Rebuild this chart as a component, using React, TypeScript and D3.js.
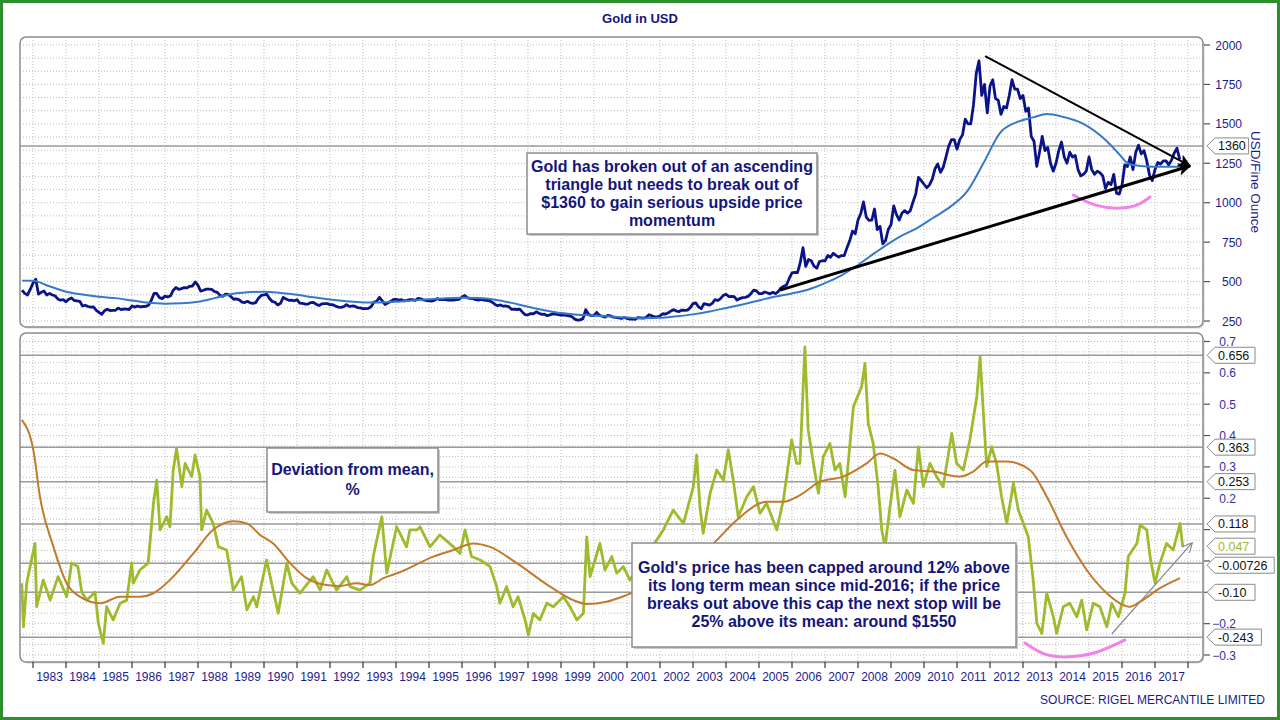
import React from "react";
import * as d3 from "d3";

// ---------------- DATA ----------------
const goldStart = 1982 + 8 / 12; // first monthly observation (Sep 1982)
const goldMonthly: number[] = [
  445, 425, 415, 450, // 1982 Sep-Dec
  490, 515, 420, 432, 440, 415, 425, 415, 410, 390, 382, 385, // 1983
  372, 388, 396, 380, 378, 375, 345, 350, 342, 338, 340, 318, // 1984
  305, 292, 315, 325, 316, 318, 318, 332, 322, 326, 325, 323, // 1985
  345, 338, 345, 340, 342, 343, 350, 380, 425, 425, 398, 392, // 1986
  408, 402, 410, 445, 462, 450, 455, 462, 460, 470, 472, 498, // 1987
  476, 440, 445, 452, 452, 450, 437, 432, 412, 406, 420, 418, // 1988
  404, 388, 390, 384, 370, 367, 375, 365, 362, 367, 395, 412, // 1989
  415, 420, 393, 374, 369, 352, 362, 400, 390, 381, 382, 378, // 1990
  385, 363, 362, 357, 357, 367, 368, 356, 348, 358, 360, 360, // 1991
  354, 353, 345, 338, 337, 341, 354, 343, 345, 344, 335, 333, // 1992
  329, 329, 330, 342, 370, 375, 400, 378, 355, 364, 373, 385, // 1993
  388, 382, 385, 377, 381, 386, 385, 380, 393, 390, 384, 380, // 1994
  378, 376, 382, 392, 385, 387, 386, 383, 383, 383, 386, 388, // 1995
  402, 412, 396, 393, 392, 385, 383, 387, 383, 381, 378, 369, // 1996
  355, 347, 352, 344, 345, 341, 324, 325, 323, 325, 306, 289, // 1997
  289, 297, 296, 308, 299, 292, 293, 284, 289, 296, 294, 291, // 1998
  287, 287, 286, 282, 277, 262, 256, 257, 265, 322, 293, 284, // 1999
  284, 305, 286, 280, 275, 285, 282, 274, 273, 270, 266, 272, // 2000
  266, 262, 263, 261, 272, 270, 268, 273, 290, 283, 276, 276, // 2001
  282, 296, 294, 302, 314, 322, 313, 310, 319, 317, 319, 335, // 2002
  360, 365, 340, 328, 360, 356, 351, 362, 385, 380, 392, 412, // 2003
  420, 405, 406, 404, 383, 392, 398, 400, 406, 422, 445, 442, // 2004
  424, 423, 434, 429, 422, 432, 424, 437, 460, 470, 478, 520, // 2005
  555, 558, 557, 620, 715, 596, 640, 632, 598, 585, 627, 632, // 2006
  631, 665, 654, 679, 666, 655, 665, 665, 715, 760, 820, 803, // 2007
  890, 930, 1005, 909, 888, 889, 960, 830, 850, 740, 760, 830, // 2008
  860, 980, 924, 890, 935, 950, 934, 949, 1005, 1055, 1160, 1140, // 2009
  1117, 1095, 1113, 1150, 1215, 1245, 1193, 1225, 1290, 1360, 1400, 1400, // 2010
  1340, 1400, 1430, 1530, 1500, 1500, 1620, 1820, 1900, 1680, 1750, 1570, // 2011
  1740, 1780, 1660, 1650, 1560, 1610, 1600, 1680, 1780, 1720, 1720, 1660, // 2012
  1680, 1580, 1600, 1420, 1390, 1230, 1320, 1420, 1330, 1350, 1250, 1200, // 2013
  1250, 1330, 1385, 1290, 1250, 1320, 1290, 1300, 1210, 1170, 1180, 1200, // 2014
  1290, 1210, 1180, 1200, 1190, 1170, 1090, 1130, 1115, 1180, 1060, 1055, // 2015
  1110, 1240, 1230, 1290, 1210, 1320, 1365, 1310, 1330, 1265, 1175, 1140, // 2016
  1210, 1255, 1245, 1265, 1265, 1240, 1270, 1315, 1345, 1275, // 2017 Jan-Oct
];

// long term mean of the gold price [year, USD]
const longTermMean: [number, number][] = [
  [1982.67, 506], [1983.0, 505], [1983.5, 470], [1984.0, 436], [1984.5, 418], [1985.0, 404],
  [1985.5, 395], [1986.0, 380], [1986.5, 365], [1987.0, 360], [1987.5, 362], [1988.0, 372],
  [1988.5, 395], [1989.0, 420], [1989.5, 432], [1990.0, 436], [1990.5, 428], [1991.0, 416],
  [1991.5, 400], [1992.0, 386], [1992.5, 375], [1993.0, 368], [1993.5, 368], [1994.0, 372],
  [1994.5, 380], [1995.0, 388], [1995.5, 395], [1996.0, 398], [1996.5, 396], [1997.0, 385],
  [1997.5, 365], [1998.0, 340], [1998.5, 318], [1999.0, 300], [1999.5, 290], [2000.0, 284],
  [2000.5, 278], [2001.0, 272], [2001.5, 268], [2002.0, 270], [2002.5, 280], [2003.0, 292],
  [2003.5, 310], [2004.0, 332], [2004.5, 355], [2005.0, 380], [2005.5, 405], [2006.0, 425],
  [2006.5, 450], [2007.0, 490], [2007.5, 540], [2008.0, 605], [2008.5, 680], [2009.27, 785],
  [2009.8, 840], [2010.27, 903], [2010.8, 975], [2011.3, 1070], [2011.8, 1250], [2012.3, 1442],
  [2012.8, 1510], [2013.3, 1541], [2013.73, 1562], [2014.2, 1545], [2014.8, 1503], [2015.5, 1398],
  [2015.94, 1302], [2016.14, 1254], [2016.33, 1239], [2016.94, 1228], [2017.8, 1228],
];

// deviation of price from its mean (fraction) [year, value]
const deviation: [number, number][] = [
  [1982.66, -0.071], [1982.71, -0.21], [1982.81, -0.07], [1983.06, 0.056], [1983.11, -0.146],
  [1983.31, -0.061], [1983.52, -0.125], [1983.76, -0.05], [1984.02, -0.114], [1984.17, -0.007],
  [1984.36, -0.018], [1984.48, -0.1], [1984.63, -0.125], [1984.88, -0.1], [1984.98, -0.199],
  [1985.13, -0.263], [1985.23, -0.146], [1985.43, -0.188], [1985.64, -0.135], [1985.84, -0.125],
  [1985.99, -0.007], [1986.04, -0.071], [1986.24, -0.029], [1986.49, -0.007], [1986.65, 0.184],
  [1986.75, 0.258], [1986.85, 0.099], [1987.05, 0.141], [1987.15, 0.109], [1987.25, 0.29],
  [1987.35, 0.359], [1987.51, 0.237], [1987.61, 0.311], [1987.81, 0.269], [1987.91, 0.338],
  [1988.06, 0.269], [1988.11, 0.099], [1988.26, 0.162], [1988.46, 0.12], [1988.62, 0.045],
  [1988.87, 0.035], [1989.07, -0.093], [1989.32, -0.05], [1989.48, -0.156], [1989.68, -0.114],
  [1989.78, -0.146], [1990.08, 0.003], [1990.23, -0.071], [1990.43, -0.167], [1990.69, -0.007],
  [1990.84, -0.071], [1991.09, -0.103], [1991.49, -0.05], [1991.7, -0.093], [1991.9, -0.029],
  [1992.2, -0.093], [1992.51, -0.05], [1992.61, -0.082], [1992.91, -0.093], [1993.21, -0.071],
  [1993.31, 0.014], [1993.57, 0.141], [1993.72, -0.039], [1994.02, 0.109], [1994.12, 0.088],
  [1994.32, 0.045], [1994.42, 0.099], [1994.63, 0.099], [1994.73, 0.109], [1995.03, 0.045],
  [1995.33, 0.083], [1995.74, 0.045], [1995.94, 0.024], [1996.09, 0.099], [1996.29, 0.014],
  [1996.55, 0.003], [1996.85, -0.018], [1997.05, -0.082], [1997.15, -0.135], [1997.35, -0.082],
  [1997.55, -0.146], [1997.7, -0.114], [1997.91, -0.188], [1998.01, -0.236], [1998.16, -0.167],
  [1998.36, -0.188], [1998.57, -0.135], [1998.77, -0.146], [1999.07, -0.114], [1999.27, -0.146],
  [1999.48, -0.188], [1999.68, -0.167], [1999.78, 0.077], [1999.88, -0.05], [2000.03, 0.003],
  [2000.18, 0.056], [2000.33, -0.029], [2000.54, 0.014], [2000.69, -0.039], [2000.89, -0.018],
  [2001.09, -0.061], [2002.1, 0.099], [2002.4, 0.162], [2002.71, 0.12], [2003.01, 0.237],
  [2003.11, 0.338], [2003.21, 0.173], [2003.31, 0.088], [2003.52, 0.216], [2003.72, 0.29],
  [2003.92, 0.258], [2004.07, 0.354], [2004.22, 0.258], [2004.37, 0.141], [2004.63, 0.205],
  [2004.83, 0.237], [2005.03, 0.152], [2005.23, 0.184], [2005.54, 0.099], [2005.74, 0.195],
  [2005.99, 0.386], [2006.14, 0.311], [2006.24, 0.311], [2006.39, 0.683], [2006.49, 0.418],
  [2006.65, 0.311], [2006.8, 0.216], [2006.95, 0.333], [2007.15, 0.375], [2007.3, 0.29],
  [2007.45, 0.311], [2007.61, 0.205], [2007.86, 0.492], [2008.11, 0.556], [2008.21, 0.63],
  [2008.31, 0.439], [2008.46, 0.375], [2008.61, 0.237], [2008.72, 0.099], [2008.82, 0.045],
  [2008.97, 0.173], [2009.12, 0.29], [2009.27, 0.141], [2009.48, 0.226], [2009.68, 0.184],
  [2009.83, 0.364], [2009.98, 0.237], [2010.18, 0.311], [2010.38, 0.269], [2010.58, 0.237],
  [2010.84, 0.407], [2010.99, 0.311], [2011.19, 0.29], [2011.39, 0.386], [2011.6, 0.524],
  [2011.7, 0.652], [2011.8, 0.471], [2011.9, 0.301], [2012.05, 0.364], [2012.2, 0.311],
  [2012.35, 0.205], [2012.51, 0.12], [2012.71, 0.248], [2012.86, 0.162], [2013.01, 0.12],
  [2013.16, 0.077], [2013.31, -0.061], [2013.42, -0.199], [2013.57, -0.231], [2013.72, -0.103],
  [2013.92, -0.178], [2014.02, -0.231], [2014.22, -0.146], [2014.42, -0.135], [2014.63, -0.178],
  [2014.78, -0.125], [2014.93, -0.22], [2015.13, -0.135], [2015.33, -0.146], [2015.54, -0.21],
  [2015.69, -0.135], [2015.89, -0.178], [2016.09, -0.103], [2016.19, 0.014], [2016.45, 0.056],
  [2016.55, 0.115], [2016.75, 0.099], [2016.85, 0.014], [2017.0, -0.071], [2017.15, -0.007],
  [2017.35, 0.056], [2017.55, 0.035], [2017.76, 0.12], [2017.84, 0.045],
];

// moving average of the deviation [year, value]
const deviationMean: [number, number][] = [
  [1982.66, 0.45], [1983.01, 0.354], [1983.21, 0.205], [1983.62, 0.045], [1984.02, -0.071],
  [1984.42, -0.114], [1985.03, -0.135], [1985.64, -0.114], [1986.24, -0.114], [1986.65, -0.103],
  [1987.25, -0.05], [1987.86, 0.024], [1988.45, 0.099], [1989.07, 0.127], [1989.48, 0.12],
  [1989.88, 0.083], [1990.28, 0.056], [1990.79, -0.007], [1991.29, -0.055], [1991.9, -0.077],
  [1992.3, -0.08], [1992.81, -0.071], [1993.21, -0.077], [1993.62, -0.055], [1994.12, -0.036],
  [1995.13, 0.014], [1995.74, 0.035], [1996.34, 0.056], [1996.85, 0.045], [1997.66, -0.007],
  [1998.67, -0.082], [1999.37, -0.125], [1999.78, -0.137], [2000.38, -0.13], [2000.98, -0.109],
  [2003.62, 0.056], [2004.32, 0.13], [2005.23, 0.189], [2005.74, 0.189], [2006.24, 0.21],
  [2006.85, 0.253], [2007.55, 0.269], [2008.26, 0.311], [2008.67, 0.343], [2009.07, 0.327],
  [2009.67, 0.29], [2010.28, 0.285], [2011.09, 0.269], [2011.49, 0.285], [2011.9, 0.317],
  [2012.51, 0.317], [2013.21, 0.29], [2013.72, 0.205], [2014.32, 0.077], [2014.93, -0.029],
  [2015.54, -0.103], [2015.94, -0.135], [2016.24, -0.146], [2016.55, -0.13], [2017.15, -0.087],
  [2017.76, -0.055],
];

const yearTicks = d3.range(1983, 2019);
const yearLabels = d3.range(1983, 2018);
const priceTicks = [250, 500, 750, 1000, 1250, 1500, 1750, 2000];
const devTickMarks = [-0.3, -0.2, -0.1, 0, 0.1, 0.2, 0.3, 0.4, 0.5, 0.6, 0.7];
const devTickLabels = [-0.3, -0.2, 0.2, 0.3, 0.4, 0.5, 0.6, 0.7];
const priceLevels = [{ value: 1360, label: "1360" }];
const devLevels = [
  { value: 0.656, label: "0.656", line: true },
  { value: 0.363, label: "0.363", line: true },
  { value: 0.253, label: "0.253", line: true },
  { value: 0.118, label: "0.118", line: true },
  { value: 0.047, label: "0.047", line: false },
  { value: -0.00726, label: "-0.00726", line: true },
  { value: -0.1, label: "-0.10", line: true },
  { value: -0.243, label: "-0.243", line: true },
];
// triangle annotation in data units
const triangleDown: [number, number][] = [[2011.85, 1930], [2018.06, 1233]];
const triangleUp: [number, number][] = [[2005.64, 446], [2018.06, 1233]];
const pinkTop: [number, number][] = [[2014.52, 1049], [2015.2, 985], [2015.94, 966], [2016.5, 990], [2016.85, 1036]];
const pinkBottom: [number, number][] = [[2013.06, -0.262], [2013.6, -0.295], [2014.27, -0.306], [2015.2, -0.292], [2016.09, -0.252]];
const devArrow: [number, number][] = [[2015.69, -0.233], [2018.11, 0.056]];

const topNote = [
  "Gold has broken out of an ascending",
  "triangle but needs to break out of",
  "$1360 to gain serious upside price",
  "momentum",
];
const devNote = ["Deviation from mean,", "%"];
const bottomNote = [
  "Gold's price has been capped around 12% above",
  "its long term mean since mid-2016; if the price",
  "breaks out above this cap the next stop will be",
  "25% above its mean: around $1550",
];

// ---------------- STYLE ----------------
const FONT = "'Liberation Sans', Arial, Helvetica, sans-serif";
const NAVY = "#15157a";
const AXIS_BLUE = "#1c1c88";
const PRICE = "#0b1487";
const MEAN = "#3579c8";
const GREEN = "#9dbb2d";
const BROWN = "#c27a2c";
const PINK = "#ee6ee0";

export default function App() {
  const W = 1280;
  const H = 720;
  const panelL = 20;
  const panelR = 1203;
  const topP = { y0: 37, y1: 327 };
  const botP = { y0: 333, y1: 662 };

  const x = d3.scaleLinear().domain([1983, 2018]).range([33, 1188]);
  const yP = d3.scaleLinear().domain([250, 2000]).range([321, 45]);
  const yD = d3.scaleLinear().domain([-0.3, 0.7]).range([655, 341.5]);

  const priceLine = d3
    .line<number>()
    .x((_, i) => x(goldStart + i / 12))
    .y((d) => yP(d))(goldMonthly) as string;
  const meanLine = d3
    .line<[number, number]>()
    .x((d) => x(d[0]))
    .y((d) => yP(d[1]))
    .curve(d3.curveMonotoneX)(longTermMean) as string;
  const devLine = d3
    .line<[number, number]>()
    .x((d) => x(d[0]))
    .y((d) => yD(d[1]))(deviation) as string;
  const devMeanLine = d3
    .line<[number, number]>()
    .x((d) => x(d[0]))
    .y((d) => yD(d[1]))
    .curve(d3.curveMonotoneX)(deviationMean) as string;
  const pinkTopPath = d3
    .line<[number, number]>()
    .x((d) => x(d[0]))
    .y((d) => yP(d[1]))
    .curve(d3.curveNatural)(pinkTop) as string;
  const pinkBotPath = d3
    .line<[number, number]>()
    .x((d) => x(d[0]))
    .y((d) => yD(d[1]))
    .curve(d3.curveNatural)(pinkBottom) as string;

  // minor grid values (3 per major step)
  const priceGrid = d3.range(0, 24).map((k) => 250 + (k * 250) / 3).filter((v) => yP(v) > topP.y0 + 2);
  const devGrid = d3.range(0, 31).map((k) => -0.3 + (k * 0.1) / 3).filter((v) => yD(v) > botP.y0 + 2);

  const pointerBox = (yc: number, label: string, color: string, key: string) => {
    const w = label.length * 6.4 + 8;
    const tip = 1207;
    const bx = 1215;
    const h = 8;
    return (
      <g key={key}>
        <path
          d={`M${tip},${yc} L${bx},${yc - h} L${bx + w},${yc - h} L${bx + w},${yc + h} L${bx},${yc + h} Z`}
          fill="#ffffff"
          stroke="#8a8a8a"
          strokeWidth={1}
        />
        <text x={bx + 3} y={yc + 4.5} fontSize={12.5} fill={color} fontFamily={FONT}>
          {label}
        </text>
      </g>
    );
  };

  const noteBox = (
    bx: number,
    by: number,
    bw: number,
    bh: number,
    lines: string[],
    firstY: number,
    lh: number,
    key: string
  ) => (
    <g key={key}>
      <rect x={bx + 2} y={by + 2} width={bw} height={bh} fill="#c9c9c9" />
      <rect x={bx} y={by} width={bw} height={bh} fill="#ffffff" stroke="#8c8c8c" strokeWidth={1.5} />
      {lines.map((t, i) => (
        <text
          key={i}
          x={bx + bw / 2}
          y={firstY + i * lh}
          textAnchor="middle"
          fontFamily={FONT}
          fontWeight="bold"
          fontSize={16}
          fill={NAVY}
        >
          {t}
        </text>
      ))}
    </g>
  );

  return (
    <svg
      width={W}
      height={H}
      viewBox={`0 0 ${W} ${H}`}
      style={{ position: "absolute", left: 0, top: 0, background: "#ffffff" }}
    >
      <defs>
        <clipPath id="clipTop">
          <rect x={panelL} y={topP.y0} width={panelR - panelL} height={topP.y1 - topP.y0} />
        </clipPath>
        <clipPath id="clipBot">
          <rect x={panelL} y={botP.y0} width={panelR - panelL} height={botP.y1 - botP.y0} />
        </clipPath>
        <marker id="blackHead" viewBox="0 0 10 10" refX={9} refY={5} markerWidth={16} markerHeight={13} markerUnits="userSpaceOnUse" orient="auto">
          <path d="M0,0 L10,5 L0,10 L2.5,5 Z" fill="#000000" />
        </marker>
        <marker id="grayHead" viewBox="0 0 10 10" refX={9} refY={5} markerWidth={11} markerHeight={10} markerUnits="userSpaceOnUse" orient="auto">
          <path d="M0,0 L10,5 L0,10" fill="none" stroke="#8a8a8a" strokeWidth={1.2} />
        </marker>
      </defs>

      <rect x={0} y={0} width={W} height={H} fill="#ffffff" />
      <rect x={1.5} y={1.5} width={W - 3} height={H - 3} fill="none" stroke="#2f8f2f" strokeWidth={3} />

      <text x={640} y={23} textAnchor="middle" fontFamily={FONT} fontWeight="bold" fontSize={13} fill={NAVY}>
        Gold in USD
      </text>

      {/* panel shadows & frames */}
      {[topP, botP].map((p, i) => (
        <rect key={i} x={panelL + 1.5} y={p.y0 + 1.5} width={panelR - panelL} height={p.y1 - p.y0} rx={6} fill="#d8d8d8" />
      ))}
      {[topP, botP].map((p, i) => (
        <rect key={i} x={panelL} y={p.y0} width={panelR - panelL} height={p.y1 - p.y0} rx={6} fill="#ffffff" />
      ))}

      {/* grid top */}
      <g clipPath="url(#clipTop)" stroke="#bdbdbd" strokeWidth={1} strokeDasharray="1 2">
        {priceGrid.map((v, i) => (
          <line key={i} x1={panelL} x2={panelR} y1={yP(v)} y2={yP(v)} />
        ))}
        {yearTicks.map((yr) => (
          <line key={yr} x1={x(yr)} x2={x(yr)} y1={topP.y0} y2={topP.y1} />
        ))}
      </g>
      {/* grid bottom */}
      <g clipPath="url(#clipBot)" stroke="#bdbdbd" strokeWidth={1} strokeDasharray="1 2">
        {devGrid.map((v, i) => (
          <line key={i} x1={panelL} x2={panelR} y1={yD(v)} y2={yD(v)} />
        ))}
        {yearTicks.map((yr) => (
          <line key={yr} x1={x(yr)} x2={x(yr)} y1={botP.y0} y2={botP.y1} />
        ))}
      </g>

      {/* level lines */}
      {priceLevels.map((l) => (
        <line key={l.label} x1={panelL} x2={panelR} y1={yP(l.value)} y2={yP(l.value)} stroke="#9a9a9a" strokeWidth={1.5} />
      ))}
      {devLevels
        .filter((l) => l.line)
        .map((l) => (
          <line key={l.label} x1={panelL} x2={panelR} y1={yD(l.value)} y2={yD(l.value)} stroke="#9a9a9a" strokeWidth={1.5} />
        ))}

      {/* top series */}
      <g clipPath="url(#clipTop)">
        <path d={priceLine} fill="none" stroke={PRICE} strokeWidth={2.8} strokeLinejoin="round" />
        <path d={meanLine} fill="none" stroke={MEAN} strokeWidth={2} />
        <path d={pinkTopPath} fill="none" stroke={PINK} strokeWidth={3} strokeLinecap="round" opacity={0.85} />
      </g>
      <line
        x1={x(triangleDown[0][0])}
        y1={yP(triangleDown[0][1])}
        x2={x(triangleDown[1][0])}
        y2={yP(triangleDown[1][1])}
        stroke="#000000"
        strokeWidth={2}
        markerEnd="url(#blackHead)"
      />
      <line
        x1={x(triangleUp[0][0])}
        y1={yP(triangleUp[0][1])}
        x2={x(triangleUp[1][0])}
        y2={yP(triangleUp[1][1])}
        stroke="#000000"
        strokeWidth={3}
        markerEnd="url(#blackHead)"
      />

      {/* bottom series */}
      <g clipPath="url(#clipBot)">
        <path d={devLine} fill="none" stroke={GREEN} strokeWidth={2.8} strokeLinejoin="round" />
        <path d={devMeanLine} fill="none" stroke={BROWN} strokeWidth={2} />
        <path d={pinkBotPath} fill="none" stroke={PINK} strokeWidth={3} strokeLinecap="round" opacity={0.85} />
      </g>
      <line
        x1={x(devArrow[0][0])}
        y1={yD(devArrow[0][1])}
        x2={x(devArrow[1][0])}
        y2={yD(devArrow[1][1])}
        stroke="#8a8a8a"
        strokeWidth={1.2}
        markerEnd="url(#grayHead)"
      />

      {/* panel borders */}
      {[topP, botP].map((p, i) => (
        <rect key={i} x={panelL} y={p.y0} width={panelR - panelL} height={p.y1 - p.y0} rx={6} fill="none" stroke="#8c8c8c" strokeWidth={1.5} />
      ))}

      {/* notes */}
      {noteBox(527, 153, 290, 81, topNote, 172, 18, "n1")}
      {noteBox(267, 448, 171, 64, devNote, 475, 20, "n2")}
      {noteBox(632, 543, 384, 104, bottomNote, 573, 18, "n3")}

      {/* right axis top */}
      {priceTicks.map((v) => (
        <g key={v}>
          <line x1={panelR + 1} x2={panelR + 7} y1={yP(v)} y2={yP(v)} stroke="#555555" strokeWidth={1.2} />
          <text x={1242} y={yP(v) + 4.5} textAnchor="end" fontFamily={FONT} fontSize={12} fill={AXIS_BLUE}>
            {v}
          </text>
        </g>
      ))}
      <text
        transform={`translate(1251,182) rotate(90)`}
        textAnchor="middle"
        fontFamily={FONT}
        fontSize={13.5}
        fill={AXIS_BLUE}
      >
        USD/Fine Ounce
      </text>

      {/* right axis bottom */}
      {devTickMarks.map((v) => (
        <line key={v} x1={panelR + 1} x2={panelR + 7} y1={yD(v)} y2={yD(v)} stroke="#555555" strokeWidth={1.2} />
      ))}
      {devTickLabels.map((v) => (
        <text key={v} x={1236} y={yD(v) + 4.5} textAnchor="end" fontFamily={FONT} fontSize={12} fill="#2f2fa0">
          {d3.format(".1f")(v)}
        </text>
      ))}

      {/* level labels */}
      {priceLevels.map((l) => pointerBox(yP(l.value), l.label, "#111111", "p" + l.label))}
      {devLevels.map((l) =>
        pointerBox(
          l.label === "-0.00726" ? yD(l.value) + 2 : yD(l.value),
          l.label,
          l.label === "0.047" ? GREEN : "#111111",
          "d" + l.label
        )
      )}

      {/* x axis */}
      {yearTicks.map((yr) => (
        <line key={yr} x1={x(yr)} x2={x(yr)} y1={botP.y1} y2={botP.y1 + 6} stroke="#333333" strokeWidth={1.2} />
      ))}
      {yearLabels.map((yr) => (
        <text key={yr} x={x(yr + 0.5)} y={681} textAnchor="middle" fontFamily={FONT} fontSize={12} fill={AXIS_BLUE}>
          {yr}
        </text>
      ))}

      <text x={1265} y={704} textAnchor="end" fontFamily={FONT} fontSize={12} fill={AXIS_BLUE}>
        SOURCE: RIGEL MERCANTILE LIMITED
      </text>
    </svg>
  );
}
